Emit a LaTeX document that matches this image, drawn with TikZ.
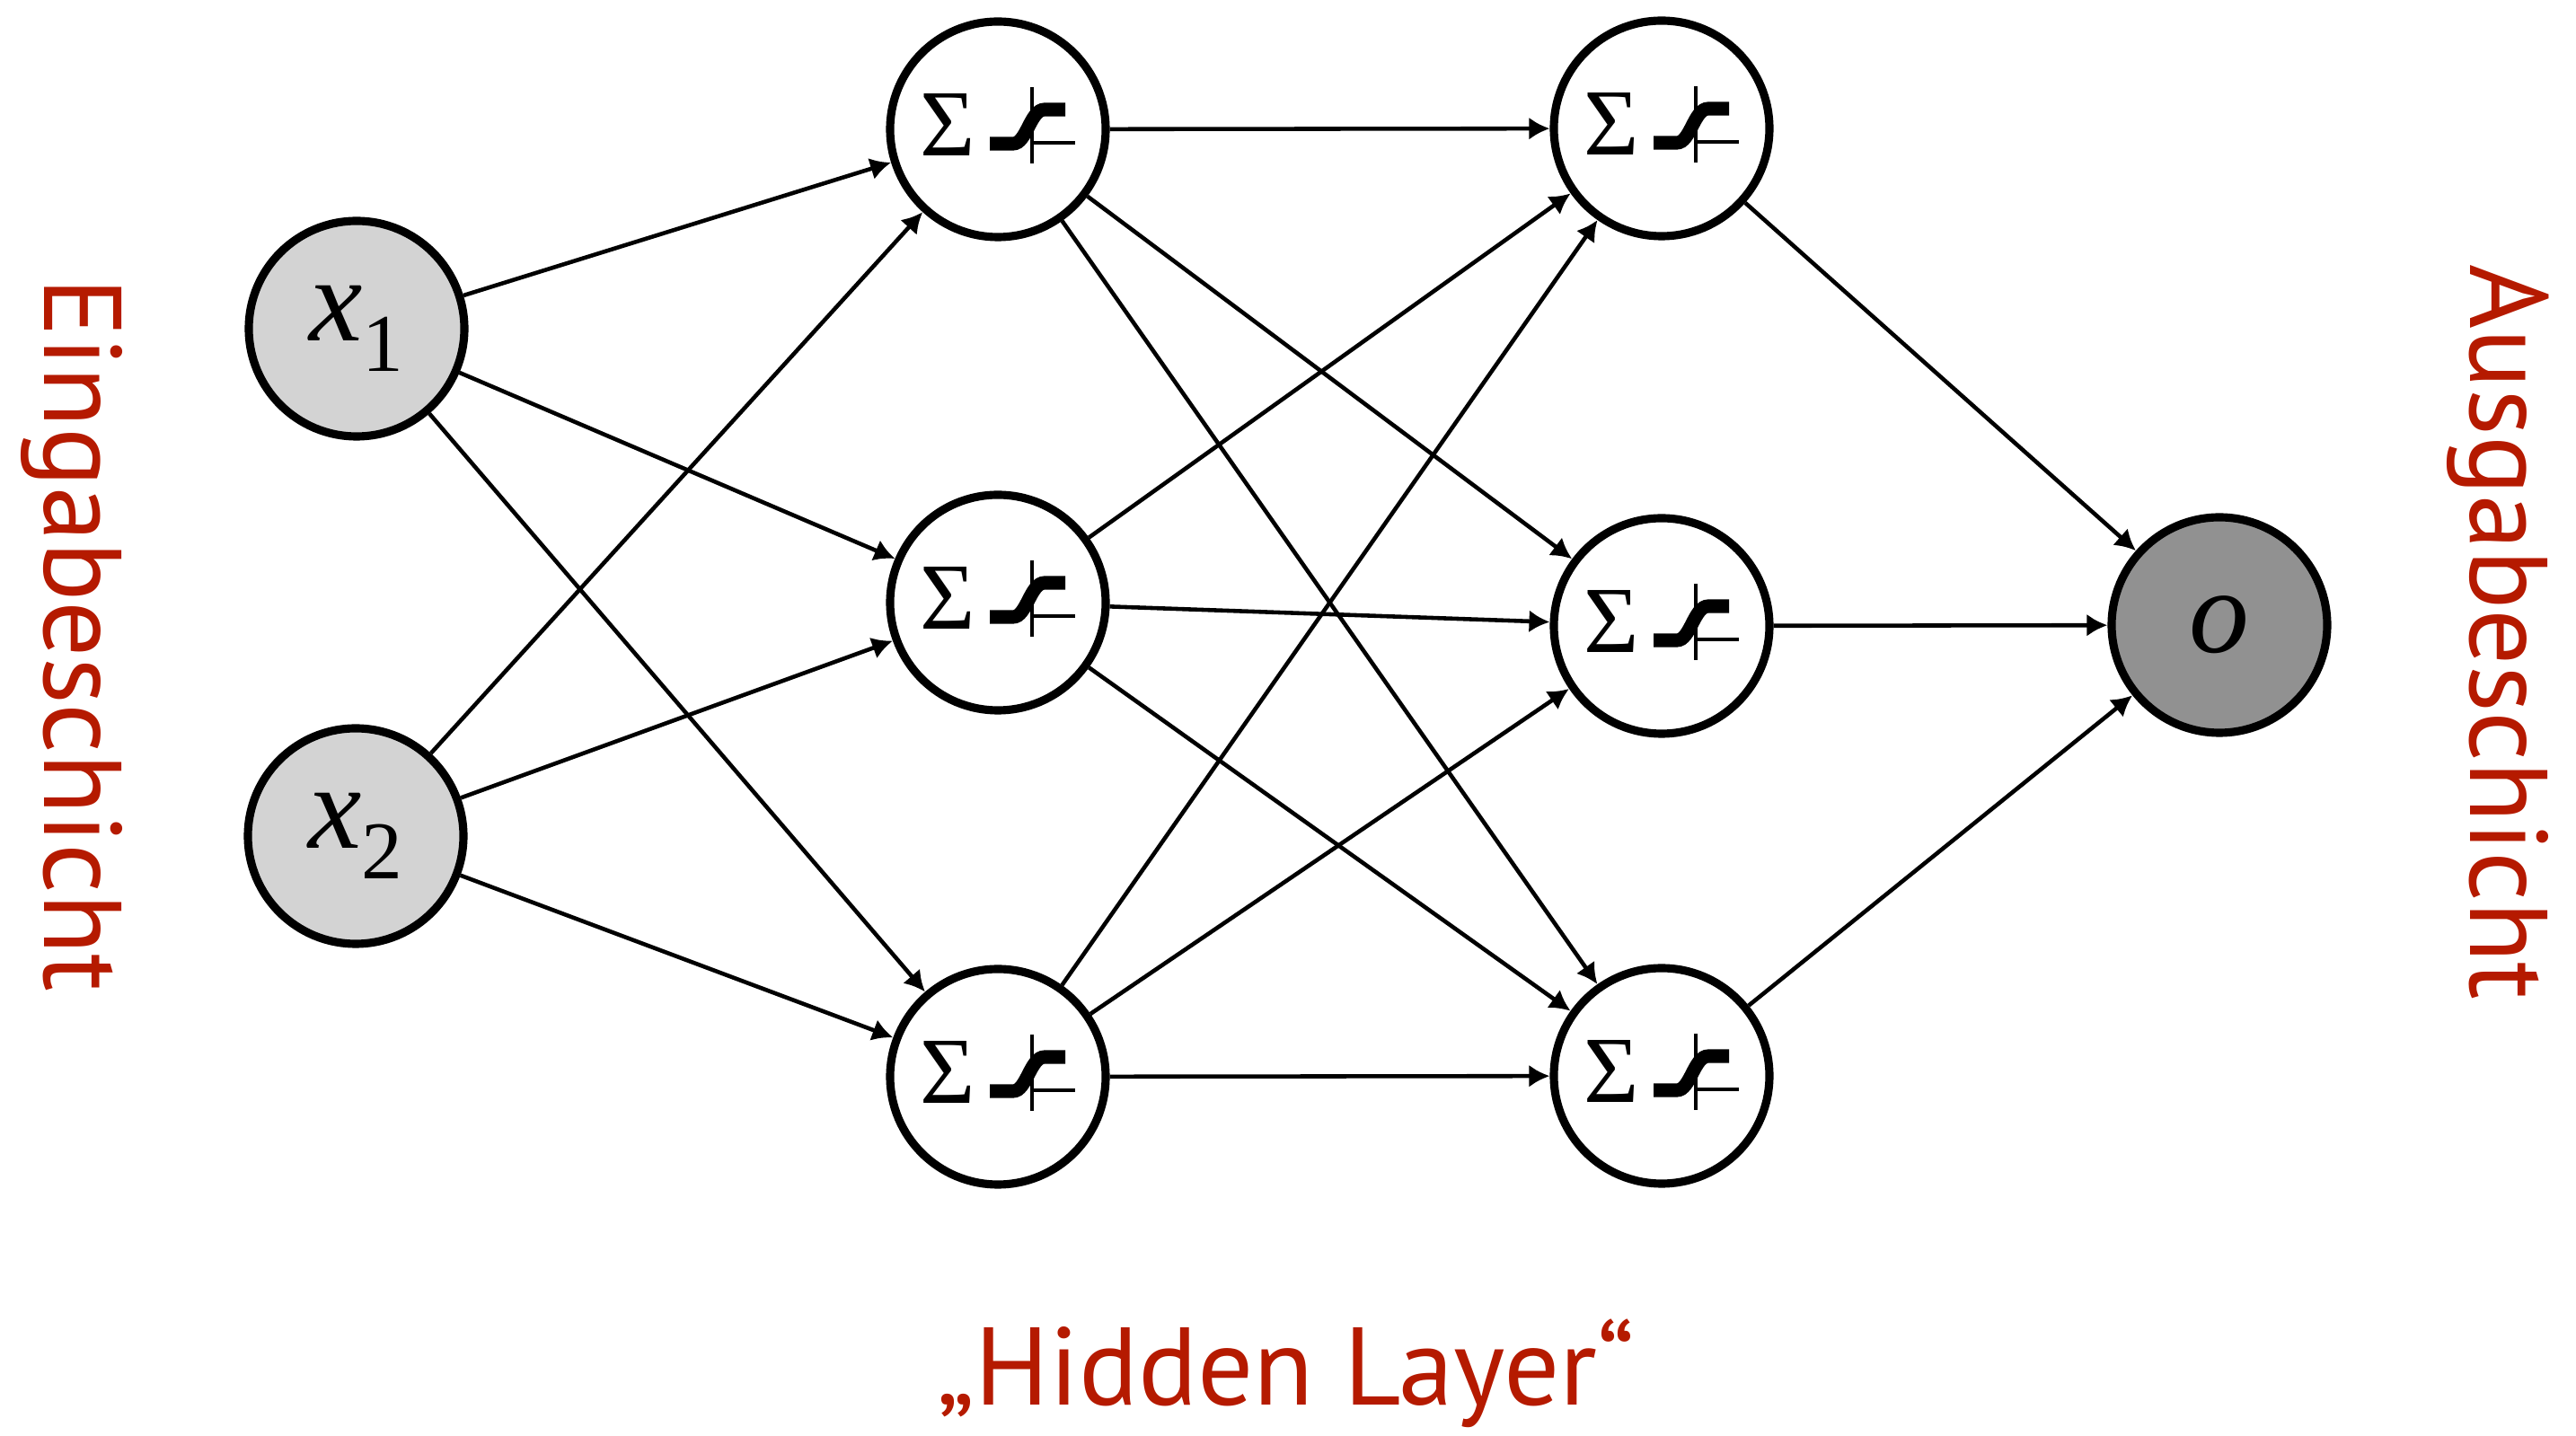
\documentclass[tikz,border=0pt]{standalone}
\usepackage{fontspec}
\setmainfont{PT Sans}
\newfontfamily\serif{Liberation Serif}
\usetikzlibrary{arrows.meta}
\definecolor{myred}{RGB}{181,26,0}
\definecolor{ingray}{RGB}{211,211,211}
\definecolor{outgray}{RGB}{145,145,145}

\begin{document}
\begin{tikzpicture}[
  neuron/.style={circle, draw, line width=2.6pt, minimum size=2.4cm, inner sep=0pt,
    font=\fontsize{38}{40}\selectfont\serif},
  conn/.style={-{Latex[length=0.23cm,width=0.25cm]}, line width=1.3pt},
  layertext/.style={color=myred, font=\fontsize{35}{40}\selectfont}
]
\useasboundingbox (0,0) rectangle (28.68,15.99);

% input layer
\node[neuron, fill=ingray] (x1) at (3.97,12.33) {\textit{x}\raisebox{-0.34cm}{\fontsize{26}{26}\selectfont 1}};
\node[neuron, fill=ingray] (x2) at (3.96,6.68) {\textit{x}\raisebox{-0.34cm}{\fontsize{26}{26}\selectfont 2}};

% hidden layers
\foreach \n/\x/\y in {h11/11.11/14.55, h12/11.11/9.28, h13/11.11/4.00,
                      h21/18.50/14.56, h22/18.50/9.02, h23/18.50/4.01}{
  \node[neuron] (\n) at (\x,\y) {};
  \begin{scope}[shift={(\n)}]
    \node[font=\fontsize{30}{30}\selectfont\serif] (\n-sum) at (-0.555,0.05) {Σ};
    \draw[line width=1.1pt] (0.38,0.47) -- (0.38,-0.38);
    \draw[line width=1.1pt] (0.38,-0.15) -- (0.86,-0.15);
    \draw[line width=4.3pt] (-0.09,-0.16) -- (0.17,-0.16)
      .. controls (0.32,-0.16) and (0.36,0.22) .. (0.52,0.22) -- (0.75,0.22);
  \end{scope}
}

% output layer
\node[neuron, fill=outgray] (o) at (24.71,9.03) {\itshape o};

\foreach \a in {x1,x2}
  \foreach \b in {h11,h12,h13}
    \draw[conn] (\a) -- (\b);
\foreach \a in {h11,h12,h13}
  \foreach \b in {h21,h22,h23}
    \draw[conn] (\a) -- (\b);
\foreach \a in {h21,h22,h23}
  \draw[conn] (\a) -- (o);

% layer names
\node[layertext, rotate=-90, anchor=base] (inname) at (0.50,8.92) {Eingabeschicht};
\node[layertext, rotate=-90, anchor=base] (outname) at (27.50,8.95) {Ausgabeschicht};
\node[layertext, anchor=base] (hidname) at (14.32,0.34) {„Hidden Layer“};
\end{tikzpicture}
\end{document}
